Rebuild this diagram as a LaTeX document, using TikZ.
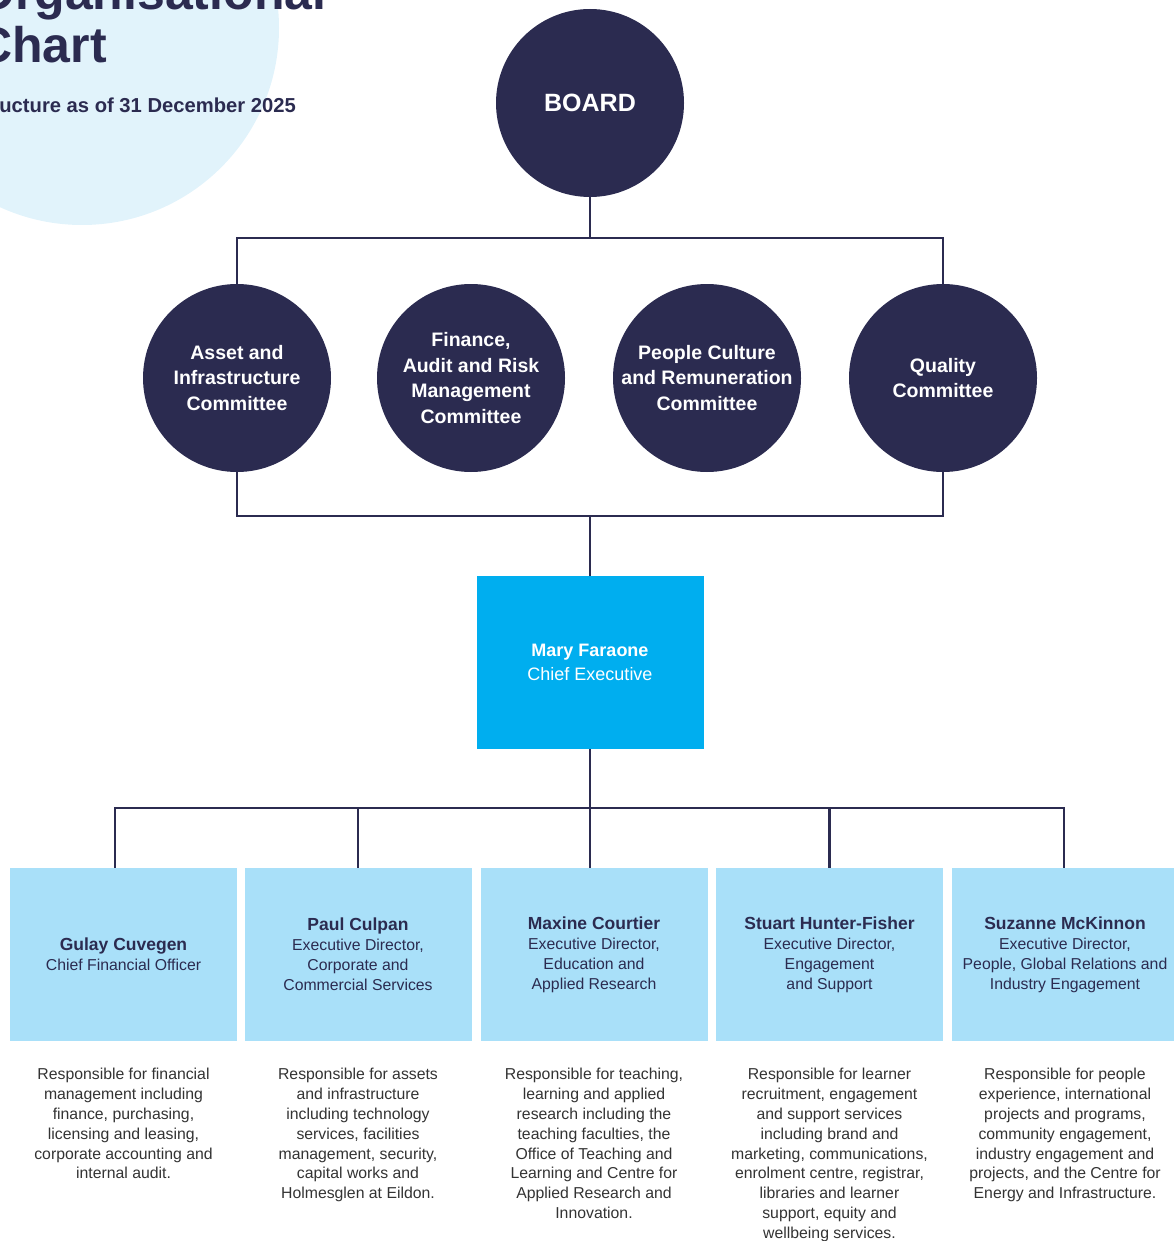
\documentclass[tikz,border=0pt]{standalone}
\usepackage{fontspec}
\setmainfont{Liberation Sans}
\usetikzlibrary{positioning}

\definecolor{navy}{HTML}{2B2B50}
\definecolor{skyblue}{HTML}{00AEEF}
\definecolor{paleblue}{HTML}{A9E0F9}
\definecolor{haze}{HTML}{E1F3FB}
\definecolor{bodygrey}{HTML}{333333}

\newcommand{\execname}[1]{{\bfseries\fontsize{17.5}{20}\selectfont #1}}

\tikzset{
  link/.style={draw=navy, line width=2.5pt},
  board/.style={circle, fill=navy, minimum size=188pt, inner sep=0pt,
    text=white, font=\bfseries\fontsize{25}{30}\selectfont},
  committee/.style={circle, fill=navy, minimum size=188pt, inner sep=0pt,
    text=white, align=center, font=\bfseries\fontsize{19.5}{25.5}\selectfont},
  chief/.style={rectangle, fill=skyblue, minimum width=227pt, minimum height=173pt,
    inner sep=0pt, text=white, align=center, font=\fontsize{18}{24}\selectfont},
  exec/.style={rectangle, fill=paleblue, minimum width=227pt, minimum height=173pt,
    inner sep=0pt, text=navy, align=center, font=\fontsize{15.8}{20}\selectfont},
  remit/.style={inner sep=0pt, text=bodygrey, align=center,
    font=\fontsize{15.8}{19.8}\selectfont, below=27pt of #1}
}

\begin{document}
\begin{tikzpicture}[x=1pt, y=-1pt]
\useasboundingbox (0,0) rectangle (1174,1241);
\clip (0,0) rectangle (1174,1241);

% heading over the pale disc
\fill[haze] (82,28) circle (197);
\node[anchor=base west, inner sep=0pt, text=navy, font=\bfseries\fontsize{50}{53}\selectfont]
  (title) at (-24,10) {Organisational};
\node[anchor=base west, inner sep=0pt, text=navy, font=\bfseries\fontsize{50}{53}\selectfont]
  (title2) at (-24,63) {Chart};
\node[anchor=base east, inner sep=0pt, text=navy, font=\bfseries\fontsize{20.2}{24}\selectfont]
  (asof) at (296,113) {Structure as of 31 December 2025};

% board and committees
\node[board] (board) at (590,103) {BOARD};
\node[committee] (asset) at (237,378) {Asset and\\Infrastructure\\Committee};
\node[committee] (farm) at (471,378) {Finance,\\Audit and Risk\\Management\\Committee};
\node[committee] (pcr) at (707,378) {People Culture\\and Remuneration\\Committee};
\node[committee] (quality) at (943,378) {Quality\\Committee};

\coordinate (topbar) at (590,238);
\coordinate (botbar) at (590,516);
\draw[link] (board) -- (topbar);
\draw[link] (asset.north) -- (asset.north |- topbar) -- (quality.north |- topbar) -- (quality.north);
\draw[link] (asset.south) -- (asset.south |- botbar) -- (quality.south |- botbar) -- (quality.south);

% chief executive
\node[chief] (ceo) at (590,662.5) {{\bfseries Mary Faraone}\\Chief Executive};
\draw[link] (botbar) -- (ceo.north);

% executive team
\node[exec] (cfo) at (123.5,954.5) {\execname{Gulay Cuvegen}\\Chief Financial Officer};
\node[exec] (corp) at (358,954.5) {\execname{Paul Culpan}\\Executive Director,\\Corporate and\\Commercial Services};
\node[exec] (edu) at (594,954.5) {\execname{Maxine Courtier}\\Executive Director,\\Education and\\Applied Research};
\node[exec] (engage) at (829.5,954.5) {\execname{Stuart Hunter-Fisher}\\Executive Director,\\Engagement\\and Support};
\node[exec] (people) at (1065,954.5) {\execname{Suzanne McKinnon}\\Executive Director,\\People, Global Relations and\\Industry Engagement};

\coordinate (execwest) at (115,808);
\coordinate (execeast) at (1064,808);
\draw[link] (ceo.south) -- (ceo.south |- edu.north);
\draw[link] (execwest |- cfo.north) -- (execwest) -- (execeast) -- (execeast |- people.north);
\draw[link] (corp.north |- execwest) -- (corp.north);
\draw[link] (engage.north |- execwest) -- (engage.north);

% what each portfolio covers
\node[remit=cfo] (cfonote) {Responsible for financial\\management including\\finance, purchasing,\\licensing and leasing,\\corporate accounting and\\internal audit.};
\node[remit=corp] (corpnote) {Responsible for assets\\and infrastructure\\including technology\\services, facilities\\management, security,\\capital works and\\Holmesglen at Eildon.};
\node[remit=edu] (edunote) {Responsible for teaching,\\learning and applied\\research including the\\teaching faculties, the\\Office of Teaching and\\Learning and Centre for\\Applied Research and\\Innovation.};
\node[remit=engage] (engagenote) {Responsible for learner\\recruitment, engagement\\and support services\\including brand and\\marketing, communications,\\enrolment centre, registrar,\\libraries and learner\\support, equity and\\wellbeing services.};
\node[remit=people] (peoplenote) {Responsible for people\\experience, international\\projects and programs,\\community engagement,\\industry engagement and\\projects, and the Centre for\\Energy and Infrastructure.};
\end{tikzpicture}
\end{document}
